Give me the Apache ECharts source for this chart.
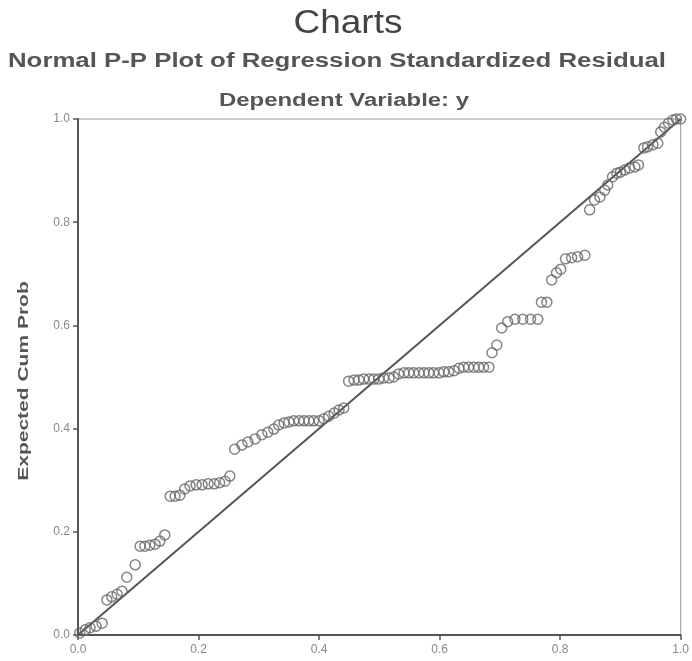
<!DOCTYPE html>
<html>
<head>
<meta charset="utf-8">
<script src="https://cdn.jsdelivr.net/npm/echarts@6/dist/echarts.min.js"></script>
<style>html,body{margin:0;padding:0;background:#fff;}#c{width:692px;height:661px;}</style>
</head>
<body>
<div id="c"></div>
<script>
// Observed cumulative probability (x) and expected cumulative probability (y)
const observedCumProb = [
  0.003,0.012,0.020,0.030,0.040,
  0.048,0.056,0.065,0.073,0.081,0.095,
  0.103,0.111,0.119,0.128,0.136,0.144,
  0.153,0.161,0.169,0.177,0.186,0.196,0.206,0.216,0.226,0.235,0.244,0.252,
  0.260,0.272,0.282,0.294,0.305,0.315,0.325,
  0.333,0.342,0.350,0.358,0.367,0.375,0.383,0.391,0.400,0.408,0.416,0.425,0.433,0.441,
  0.449,0.458,0.466,0.474,0.483,0.491,0.499,0.507,0.516,0.524,
  0.532,0.541,0.549,0.557,0.566,0.574,0.582,0.590,0.599,0.607,0.615,0.624,
  0.632,0.640,0.648,0.657,0.665,0.673,0.682,
  0.687,0.695,0.703,0.713,0.725,0.738,0.751,0.763,0.769,0.778,
  0.786,0.794,0.801,0.809,0.819,0.829,0.841,
  0.849,0.857,0.866,0.874,0.879,0.887,0.894,0.900,0.907,0.915,0.924,0.930,
  0.939,0.945,0.954,0.962,0.967,0.973,0.980,0.987,0.993,1.000
];
const expectedCumProb = [
  0.004,0.010,0.014,0.017,0.023,
  0.068,0.074,0.079,0.085,0.112,0.136,
  0.172,0.172,0.174,0.176,0.182,0.194,
  0.269,0.269,0.271,0.283,0.289,0.291,0.291,0.293,0.293,0.295,0.298,0.308,
  0.360,0.368,0.374,0.380,0.388,0.393,0.399,
  0.407,0.411,0.413,0.415,0.415,0.415,0.415,0.415,0.415,0.419,0.424,0.430,0.436,0.440,
  0.492,0.494,0.494,0.496,0.496,0.496,0.496,0.498,0.498,0.500,
  0.506,0.508,0.508,0.508,0.508,0.508,0.508,0.508,0.508,0.510,0.510,0.512,
  0.517,0.519,0.519,0.519,0.519,0.519,0.519,
  0.547,0.562,0.595,0.607,0.612,0.612,0.612,0.612,0.645,0.645,
  0.688,0.702,0.709,0.729,0.731,0.733,0.736,
  0.824,0.843,0.849,0.862,0.872,0.888,0.895,0.897,0.901,0.905,0.907,0.911,
  0.944,0.946,0.950,0.953,0.975,0.984,0.992,0.998,1.000,1.000
];
const referenceLineX = [0, 1];
const referenceLineY = [0, 1];
const tickValues = [0.0, 0.2, 0.4, 0.6, 0.8, 1.0];

const titleText = 'Charts';
const subtitleText = 'Normal P-P Plot of Regression Standardized Residual';
const dependentText = 'Dependent Variable: y';
const yAxisName = 'Expected Cum Prob';

const points = observedCumProb.map((x, i) => [x, expectedCumProb[i]]);
const diag = referenceLineX.map((x, i) => [x, referenceLineY[i]]);

const chart = echarts.init(document.getElementById('c'), null, {renderer: 'canvas'});
const axisCommon = {
  type: 'value', min: tickValues[0], max: tickValues[tickValues.length - 1], interval: 0.2,
  axisLine: {show: true, lineStyle: {color: '#555', width: 2}},
  axisTick: {show: true, length: 5, inside: false, lineStyle: {color: '#555', width: 1.5}},
  axisLabel: {color: '#888', fontSize: 12, fontFamily: 'Liberation Sans', formatter: v => v.toFixed(1)},
  splitLine: {show: false}
};
chart.setOption({
  animation: false,
  backgroundColor: '#fff',
  graphic: [
    {type: 'text', x: 348, y: 24, scaleX: 1.12,
     style: {text: titleText, font: 'normal 33px "Liberation Sans"', fill: '#444', align: 'center', verticalAlign: 'middle'}},
    {type: 'text', x: 337, y: 61, scaleX: 1.29,
     style: {text: subtitleText, font: 'bold 20px "Liberation Sans"', fill: '#555', align: 'center', verticalAlign: 'middle'}},
    {type: 'text', x: 344, y: 101, scaleX: 1.33,
     style: {text: dependentText, font: 'bold 18px "Liberation Sans"', fill: '#555', align: 'center', verticalAlign: 'middle'}},
    {type: 'text', x: 24, y: 381, rotation: Math.PI / 2, scaleX: 1.4,
     style: {text: yAxisName, font: 'bold 15px "Liberation Sans"', fill: '#555', align: 'center', verticalAlign: 'middle'}}
  ],
  grid: {left: 78, right: 11, top: 119, bottom: 26, show: true, borderColor: '#999', borderWidth: 1, backgroundColor: 'transparent'},
  xAxis: Object.assign({}, axisCommon, {axisLabel: Object.assign({}, axisCommon.axisLabel, {margin: 9})}),
  yAxis: Object.assign({}, axisCommon, {axisLabel: Object.assign({}, axisCommon.axisLabel, {margin: 8})}),
  series: [
    {type: 'line', data: diag, symbol: 'none', lineStyle: {color: '#555', width: 2}, z: 2},
    {type: 'scatter', data: points, symbol: 'circle', symbolSize: 10,
     itemStyle: {color: 'rgba(255,255,255,0)', borderColor: '#666', borderWidth: 1.5}, z: 3}
  ]
});
</script>
</body>
</html>
